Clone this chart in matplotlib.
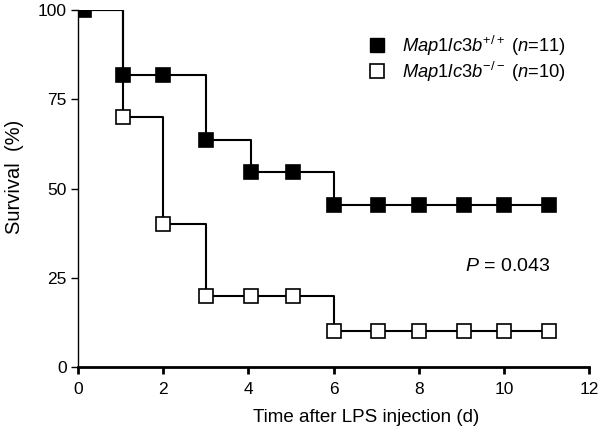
import matplotlib
matplotlib.use("Agg")
import matplotlib.pyplot as plt
from matplotlib.lines import Line2D

plt.rcParams['font.family'] = ['Liberation Sans', 'DejaVu Sans']
plt.rcParams['mathtext.fontset'] = 'custom'
plt.rcParams['mathtext.rm'] = 'Liberation Sans'
plt.rcParams['mathtext.it'] = 'Liberation Sans:italic'

# Data
wt_time = [0.15, 1.05, 2.0, 3.0, 4.05, 5.05, 6.0, 7.05, 8.0, 9.05, 10.0, 11.05]
wt_surv = [100, 81.8, 81.8, 63.6, 54.5, 54.5, 45.5, 45.5, 45.5, 45.5, 45.5, 45.5]
ko_time = [0.15, 1.05, 2.0, 3.0, 4.05, 5.05, 6.0, 7.05, 8.0, 9.05, 10.0, 11.05]
ko_surv = [100, 70, 40, 20, 20, 20, 10, 10, 10, 10, 10, 10]
x_ticks = [0, 2, 4, 6, 8, 10, 12]
y_ticks = [0, 25, 50, 75, 100]

fig = plt.figure(figsize=(6, 4.4), dpi=100)
ax = fig.add_axes([0.13, 0.166, 0.852, 0.811])

ms = 10
lw = 1.5
ax.step([0] + ko_time, [100] + ko_surv, where='post', color='black', lw=lw, zorder=2)
ax.plot(ko_time[1:], ko_surv[1:], 's', ms=ms, mfc='white', mec='black', mew=1.2, ls='none', zorder=3)
ax.step([0] + wt_time, [100] + wt_surv, where='post', color='black', lw=lw, zorder=4)
ax.plot(wt_time, wt_surv, 's', ms=ms, mfc='black', mec='black', mew=1.2, ls='none', zorder=5)

ax.set_xlim(0, 12)
ax.set_ylim(0, 100)
ax.set_xticks(x_ticks)
ax.set_yticks(y_ticks)
ax.spines['top'].set_visible(False)
ax.spines['right'].set_visible(False)
ax.spines['left'].set_linewidth(1.0)
ax.spines['bottom'].set_linewidth(2.0)
ax.tick_params(axis='x', direction='out', length=5, width=2, labelsize=12.5, pad=6)
ax.tick_params(axis='y', direction='out', length=5, width=1, labelsize=12.5, pad=3)
ax.set_xlabel('Time after LPS injection (d)', fontsize=13.5, labelpad=10)
ax.xaxis.set_label_coords(0.564, -0.117)
ax.set_ylabel('Survival  (%)', fontsize=14.5, labelpad=10)
ax.yaxis.set_label_coords(-0.105, 0.532)

handles = [
    Line2D([], [], marker='s', ms=ms, mfc='black', mec='black', ls='none'),
    Line2D([], [], marker='s', ms=ms, mfc='white', mec='black', mew=1.2, ls='none'),
]
labels = [r'$\it{Map1lc3b}^{+/+}$ ($\it{n}$=11)', r'$\it{Map1lc3b}^{-/-}$ ($\it{n}$=10)']
ax.legend(handles, labels, loc='upper left', bbox_to_anchor=(0.535, 0.955), frameon=False,
          fontsize=13.2, handletextpad=0.35, labelspacing=0.1, borderaxespad=0)

ax.text(0.84, 0.282, r'$\it{P}$ = 0.043', transform=ax.transAxes, ha='center', va='center', fontsize=14)

fig.savefig('out.png', dpi=100)
